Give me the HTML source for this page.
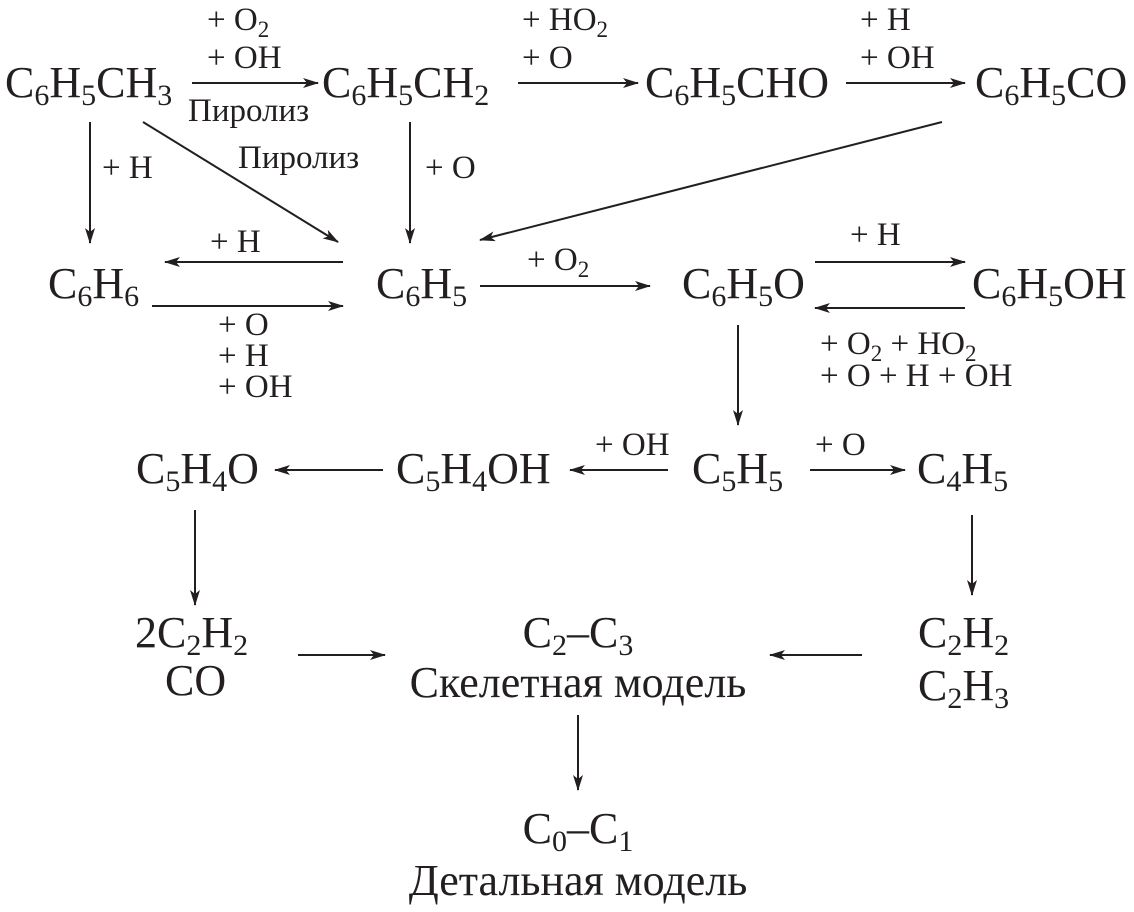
<!DOCTYPE html>
<html><head><meta charset="utf-8"><style>
html,body{margin:0;padding:0;background:#fff;}
svg{display:block;}
.s{font-family:"Liberation Serif",serif;font-size:44px;fill:#231f20;}
.l{font-family:"Liberation Serif",serif;font-size:33px;fill:#231f20;}
line{stroke:#231f20;stroke-width:2;}
</style></head><body>
<svg width="1134" height="912" viewBox="0 0 1134 912" xmlns="http://www.w3.org/2000/svg">
<defs><marker id="a" markerWidth="16" markerHeight="10" refX="15" refY="5" orient="auto" markerUnits="userSpaceOnUse"><path d="M0,0 L16,5 L0,10 L4,5 Z" fill="#231f20"/></marker></defs>
<g class="s">
<text x="5" y="97">C<tspan font-size="30" dy="8">6</tspan><tspan dy="-8">H</tspan><tspan font-size="30" dy="8">5</tspan><tspan dy="-8">CH</tspan><tspan font-size="30" dy="8">3</tspan></text>
<text x="322" y="97">C<tspan font-size="30" dy="8">6</tspan><tspan dy="-8">H</tspan><tspan font-size="30" dy="8">5</tspan><tspan dy="-8">CH</tspan><tspan font-size="30" dy="8">2</tspan></text>
<text x="645" y="97">C<tspan font-size="30" dy="8">6</tspan><tspan dy="-8">H</tspan><tspan font-size="30" dy="8">5</tspan><tspan dy="-8">CHO</tspan></text>
<text x="975" y="97">C<tspan font-size="30" dy="8">6</tspan><tspan dy="-8">H</tspan><tspan font-size="30" dy="8">5</tspan><tspan dy="-8">CO</tspan></text>
<text x="48" y="298">C<tspan font-size="30" dy="8">6</tspan><tspan dy="-8">H</tspan><tspan font-size="30" dy="8">6</tspan></text>
<text x="376" y="298">C<tspan font-size="30" dy="8">6</tspan><tspan dy="-8">H</tspan><tspan font-size="30" dy="8">5</tspan></text>
<text x="682" y="298">C<tspan font-size="30" dy="8">6</tspan><tspan dy="-8">H</tspan><tspan font-size="30" dy="8">5</tspan><tspan dy="-8">O</tspan></text>
<text x="972" y="298">C<tspan font-size="30" dy="8">6</tspan><tspan dy="-8">H</tspan><tspan font-size="30" dy="8">5</tspan><tspan dy="-8">OH</tspan></text>
<text x="136" y="483">C<tspan font-size="30" dy="8">5</tspan><tspan dy="-8">H</tspan><tspan font-size="30" dy="8">4</tspan><tspan dy="-8">O</tspan></text>
<text x="396" y="483">C<tspan font-size="30" dy="8">5</tspan><tspan dy="-8">H</tspan><tspan font-size="30" dy="8">4</tspan><tspan dy="-8">OH</tspan></text>
<text x="692" y="483">C<tspan font-size="30" dy="8">5</tspan><tspan dy="-8">H</tspan><tspan font-size="30" dy="8">5</tspan></text>
<text x="917" y="483">C<tspan font-size="30" dy="8">4</tspan><tspan dy="-8">H</tspan><tspan font-size="30" dy="8">5</tspan></text>
<text x="135" y="647">2C<tspan font-size="30" dy="8">2</tspan><tspan dy="-8">H</tspan><tspan font-size="30" dy="8">2</tspan></text>
<text x="165" y="695">CO</text>
<text x="578" y="647" text-anchor="middle">C<tspan font-size="30" dy="8">2</tspan><tspan dy="-8">–C</tspan><tspan font-size="30" dy="8">3</tspan></text>
<text x="578" y="697" text-anchor="middle">Скелетная модель</text>
<text x="918" y="647">C<tspan font-size="30" dy="8">2</tspan><tspan dy="-8">H</tspan><tspan font-size="30" dy="8">2</tspan></text>
<text x="918" y="700">C<tspan font-size="30" dy="8">2</tspan><tspan dy="-8">H</tspan><tspan font-size="30" dy="8">3</tspan></text>
<text x="578" y="843" text-anchor="middle">C<tspan font-size="30" dy="8">0</tspan><tspan dy="-8">–C</tspan><tspan font-size="30" dy="8">1</tspan></text>
<text x="578" y="895" text-anchor="middle">Детальная модель</text>
</g>
<g class="l">
<text x="207" y="30">+ O<tspan font-size="23" dy="7">2</tspan></text>
<text x="207" y="68">+ OH</text>
<text x="188" y="121">Пиролиз</text>
<text x="522" y="30">+ HO<tspan font-size="23" dy="7">2</tspan></text>
<text x="522" y="68">+ O</text>
<text x="860" y="30">+ H</text>
<text x="860" y="68">+ OH</text>
<text x="102" y="178">+ H</text>
<text x="238" y="168">Пиролиз</text>
<text x="425" y="178">+ O</text>
<text x="210" y="252">+ H</text>
<text x="218" y="335">+ O</text>
<text x="218" y="366">+ H</text>
<text x="218" y="397">+ OH</text>
<text x="527" y="270">+ O<tspan font-size="23" dy="7">2</tspan></text>
<text x="850" y="245">+ H</text>
<text x="820" y="354">+ O<tspan font-size="23" dy="7">2</tspan><tspan dy="-7"> + HO</tspan><tspan font-size="23" dy="7">2</tspan></text>
<text x="820" y="386">+ O + H + OH</text>
<text x="595" y="455">+ OH</text>
<text x="815" y="455">+ O</text>
</g>
<g marker-end="url(#a)">
<line x1="192" y1="83" x2="318" y2="83"/>
<line x1="518" y1="83" x2="638" y2="83"/>
<line x1="846" y1="83" x2="965" y2="83"/>
<line x1="90" y1="122" x2="90" y2="243"/>
<line x1="143" y1="122" x2="338" y2="242"/>
<line x1="410" y1="122" x2="410" y2="243"/>
<line x1="942" y1="122" x2="480" y2="240"/>
<line x1="343" y1="262" x2="165" y2="262"/>
<line x1="152" y1="306" x2="343" y2="306"/>
<line x1="480" y1="286" x2="650" y2="286"/>
<line x1="815" y1="262" x2="965" y2="262"/>
<line x1="965" y1="308" x2="815" y2="308"/>
<line x1="738" y1="325" x2="738" y2="425"/>
<line x1="383" y1="470" x2="275" y2="470"/>
<line x1="668" y1="470" x2="570" y2="470"/>
<line x1="810" y1="470" x2="905" y2="470"/>
<line x1="195" y1="510" x2="195" y2="605"/>
<line x1="972" y1="515" x2="972" y2="595"/>
<line x1="298" y1="655" x2="385" y2="655"/>
<line x1="862" y1="655" x2="770" y2="655"/>
<line x1="578" y1="715" x2="578" y2="790"/>
</g>
</svg>
</body></html>
